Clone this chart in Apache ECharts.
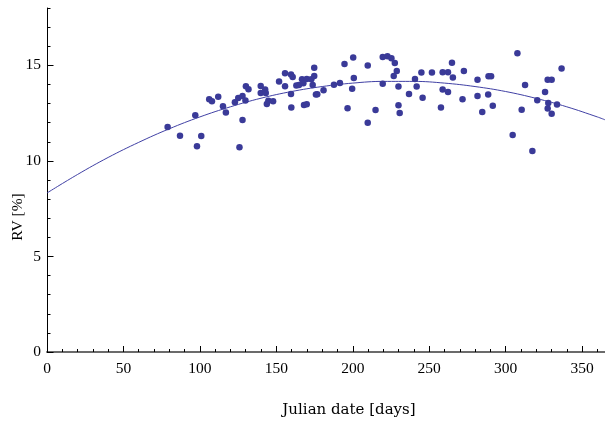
<!DOCTYPE html>
<html>
<head>
<meta charset="utf-8">
<script src="https://cdn.jsdelivr.net/npm/echarts@6/dist/echarts.min.js"></script>
<style>
html,body{margin:0;padding:0;background:#fff;}
#chart{width:605px;height:425px;}
</style>
</head>
<body>
<div id="chart"></div>
<script>
// Observations: Julian date [days], RV [%]
const days = [78.9,87.0,97.0,98.1,100.9,106.1,107.9,112.0,115.1,117.0,122.9,125.1,127.9,130.1,131.8,129.8,127.9,125.9,
  139.8,139.8,142.7,143.1,144.8,143.8,147.9,151.8,155.7,155.7,159.6,160.7,159.6,159.8,163.1,164.8,166.8,167.7,169.9,172.9,
  174.8,174.8,173.8,168.1,169.9,175.9,176.8,180.9,187.7,191.6,194.6,196.6,199.6,200.3,200.7,209.8,209.8,214.9,219.6,219.6,
  222.7,225.3,227.5,228.8,226.8,229.9,229.9,230.7,236.8,240.7,241.8,244.9,245.7,251.8,257.7,258.8,262.3,258.8,262.3,264.9,
  265.5,272.7,271.8,281.6,281.6,284.7,288.8,290.5,288.6,291.6,304.6,307.7,310.5,312.7,317.5,320.7,325.8,327.5,330.1,327.9,
  327.5,330.1,333.6,336.6];
const rv = [11.77,11.32,12.39,10.76,11.30,13.22,13.12,13.36,12.86,12.53,13.07,13.29,13.40,13.90,13.75,13.16,12.14,10.71,
  13.92,13.55,13.73,13.55,13.15,12.98,13.12,14.15,14.58,13.90,14.52,14.39,13.50,12.80,13.94,13.97,14.27,14.06,14.29,14.27,
  14.88,14.44,13.97,12.93,12.96,13.47,13.49,13.69,13.99,14.08,15.07,12.75,13.78,15.41,14.34,14.99,12.00,12.66,14.04,15.44,
  15.47,15.37,15.12,14.70,14.44,13.89,12.91,12.51,13.50,14.29,13.89,14.62,13.31,14.62,12.80,14.64,14.64,13.73,13.61,15.14,
  14.36,14.71,13.22,14.25,13.40,12.56,14.43,14.43,13.47,12.89,11.36,15.63,12.68,13.97,10.52,13.17,13.61,14.25,14.25,13.03,
  12.74,12.47,12.95,14.83];
// Fitted curve
const fitDays = [0,20,40,60,80,100,120,140,160,180,200,220,240,260,280,300,320,340,360,365];
const fitRv = [8.32,9.29,10.18,10.97,11.68,12.30,12.83,13.28,13.63,13.89,14.07,14.16,14.16,14.07,13.89,13.63,13.27,12.83,12.30,12.15];
// Tick labels
const xTicks = [0,50,100,150,200,250,300,350];
const yTicks = [0,5,10,15];
const xTitle = 'Julian date [days]';
const yTitle = 'RV [%]';

const FONT = 'Liberation Serif';
const chart = echarts.init(document.getElementById('chart'), null, {renderer:'canvas'});
const gridPos = {left:47, top:8, width:560, height:344};
const option = {
  animation:false,
  backgroundColor:'#fff',
  grid:[Object.assign({}, gridPos), Object.assign({}, gridPos)],
  xAxis:[
    {gridIndex:0, type:'value', min:0, max:365, interval:10,
      axisLine:{show:false}, splitLine:{show:false}, axisLabel:{show:false},
      axisTick:{show:true, inside:true, length:3, lineStyle:{color:'#000', width:1}}},
    {gridIndex:1, type:'value', min:0, max:365, interval:50,
      axisLine:{show:true, lineStyle:{color:'#6b6b6b', width:2}}, splitLine:{show:false},
      axisTick:{show:true, inside:true, length:6, customValues:xTicks, lineStyle:{color:'#000', width:1}},
      axisLabel:{customValues:xTicks, margin:9, color:'#000', fontFamily:FONT, fontSize:15.5}}
  ],
  yAxis:[
    {gridIndex:0, type:'value', min:0, max:18, interval:1,
      axisLine:{show:true, lineStyle:{color:'#000', width:1}}, splitLine:{show:false}, axisLabel:{show:false},
      axisTick:{show:true, inside:true, length:3.5, lineStyle:{color:'#000', width:1}}},
    {gridIndex:1, type:'value', min:0, max:18, interval:5,
      axisLine:{show:false}, splitLine:{show:false},
      axisTick:{show:true, inside:true, length:6.5, customValues:yTicks, lineStyle:{color:'#000', width:1}},
      axisLabel:{customValues:yTicks, margin:6, color:'#000', fontFamily:FONT, fontSize:15.5}}
  ],
  series:[
    {type:'line', xAxisIndex:1, yAxisIndex:1, data:fitDays.map((d,i)=>[d,fitRv[i]]),
      smooth:0.4, showSymbol:false, lineStyle:{color:'#4040a4', width:1}, z:2},
    {type:'scatter', xAxisIndex:1, yAxisIndex:1, data:days.map((d,i)=>[d,rv[i]]),
      symbol:'circle', symbolSize:6.5, itemStyle:{color:'#3a3a98', opacity:1}, z:3}
  ],
  graphic:[
    {type:'text', x:349, y:403, style:{text:xTitle, fill:'#000', font:'15px "DejaVu Serif"', align:'center', verticalAlign:'top'}},
    {type:'text', x:10, y:217, rotation:Math.PI/2, style:{text:yTitle, fill:'#000', font:'15.5px "Liberation Serif"', align:'center', verticalAlign:'top'}}
  ]
};
chart.setOption(option);
</script>
</body>
</html>
